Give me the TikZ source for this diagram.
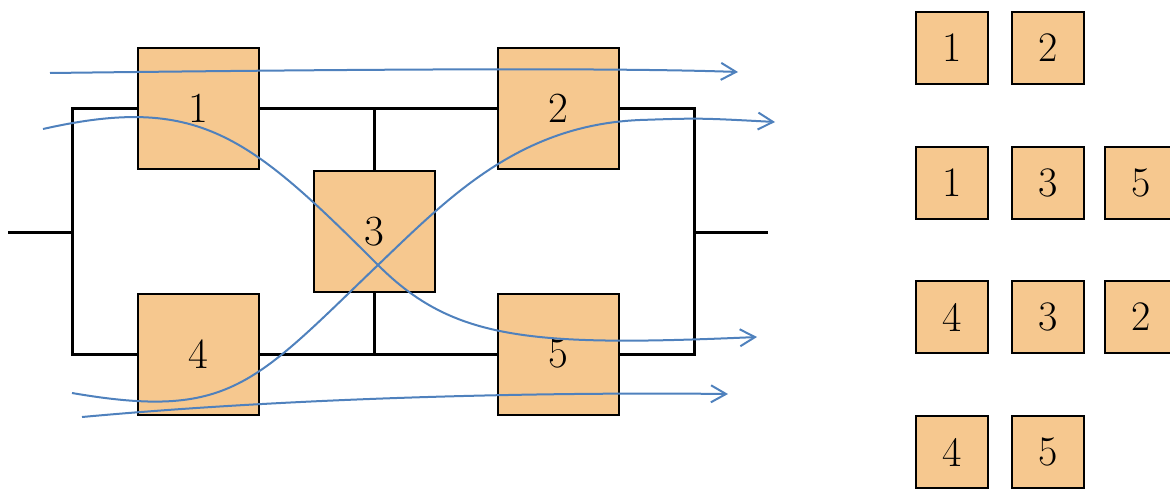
\documentclass[tikz,border=0pt]{standalone}
\usepackage{xcolor}
\usepackage{tikz}
\usetikzlibrary{arrows.meta}

\definecolor{boxfill}{RGB}{246,200,143}
\definecolor{flowblue}{RGB}{79,129,189}

\begin{document}
\begin{tikzpicture}
    [x=1pt,y=-1pt,
    block/.style={draw,fill=boxfill,line width=2pt,minimum size=121pt,inner sep=0pt,font=\fontsize{43}{50}\selectfont},
    tile/.style={draw,fill=boxfill,line width=2pt,minimum size=72pt,inner sep=0pt,font=\fontsize{42}{50}\selectfont},
    wire/.style={black,line width=3pt},
    flow/.style={-{Straight Barb[length=15pt,width=17pt]},flowblue,line width=2pt}]

\useasboundingbox (0,0) rectangle (1170,490);

%bridge blocks
\node[block] (b1) at (198.5,108.5) {1};
\node[block] (b2) at (558.5,108.5) {2};
\node[block] (b3) at (374.5,231.5) {3};
\node[block] (b4) at (198.5,354) {4};
\node[block] (b5) at (558.5,354) {5};

%terminals
\coordinate (in) at (8,232);
\coordinate (jl) at (72,232);
\coordinate (jr) at (694,232);
\coordinate (out) at (768,232);

%draw wiring
\draw[wire] (in) -- (jl);
\draw[wire] (jr) -- (out);
\draw[wire] (b1.west) -| (jl) |- (b4.west);
\draw[wire] (b2.east) -| (jr) |- (b5.east);
\draw[wire] (b1.east) -- (b2.west);
\draw[wire] (b4.east) -- (b5.west);
\draw[wire] (b3.north) -- (b3.north |- b1.east);
\draw[wire] (b3.south) -- (b3.south |- b4.east);

%draw flow paths
\coordinate (x) at (378,265);
\draw[flow] (50,73) .. controls (300,70) and (600,67) .. (738,72);
\draw[flow] (43,129) .. controls (198,94) and (248,135) .. (x)
    .. controls (453,340) and (529,347) .. (757,337);
\draw[flow] (72,393) .. controls (229,420) and (253,385) .. (x)
    .. controls (450,196) and (520,125) .. (640,120)
    .. controls (700,118) .. (775,122);
\draw[flow] (82,417) .. controls (300,397) and (550,392) .. (728,394);

%minimal path sets
\node[tile] (p1a) at (952,47.5) {1};
\node[tile] (p1b) at (1048,47.5) {2};
\node[tile] (p2a) at (952,182.5) {1};
\node[tile] (p2b) at (1048,182.5) {3};
\node[tile] (p2c) at (1141,182.5) {5};
\node[tile] (p3a) at (952,317) {4};
\node[tile] (p3b) at (1048,317) {3};
\node[tile] (p3c) at (1141,317) {2};
\node[tile] (p4a) at (952,452) {4};
\node[tile] (p4b) at (1048,452) {5};

\end{tikzpicture}
\end{document}
